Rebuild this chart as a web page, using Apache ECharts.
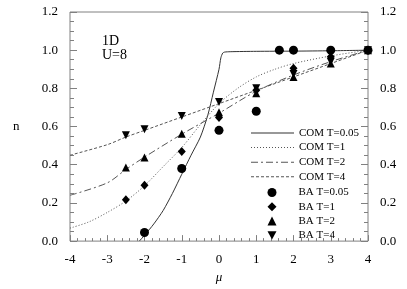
<!DOCTYPE html>
<html><head><meta charset="utf-8">
<script src="https://cdn.jsdelivr.net/npm/echarts@6/dist/echarts.min.js"></script>
<style>html,body{margin:0;padding:0;background:#fff}#c{width:407px;height:289px}</style>
</head><body><div id="c"></div>
<script>
// x-axis ticks and y-axis ticks
const xTicks = [-4, -3, -2, -1, 0, 1, 2, 3, 4];
const yTicks = [0.0, 0.2, 0.4, 0.6, 0.8, 1.0, 1.2];

// COM curves (mu, n)
const comT005_mu = [-2.14, -2, -1.75, -1.5, -1.25, -1, -0.75, -0.5, -0.3, -0.15, 0, 0.05, 0.1, 0.15, 0.3, 1, 2, 3, 4];
const comT005_n  = [0, 0.03, 0.09, 0.16, 0.25, 0.35, 0.45, 0.545, 0.66, 0.78, 0.9, 0.96, 0.985, 0.99, 0.992, 0.994, 0.995, 0.997, 1.0];
const comT1_mu = [-4, -3.5, -3, -2.5, -2, -1.5, -1, -0.5, 0, 0.5, 1, 1.5, 2, 3, 4];
const comT1_n  = [0.068, 0.1, 0.15, 0.21, 0.29, 0.39, 0.49, 0.61, 0.72, 0.8, 0.86, 0.9, 0.93, 0.97, 1.0];
const comT2_mu = [-4, -3, -2.5, -2, -1, 0, 1, 2, 3, 4];
const comT2_n  = [0.24, 0.305, 0.375, 0.44, 0.56, 0.67, 0.785, 0.87, 0.94, 1.0];
const comT4_mu = [-4, -3, -2.5, -2, -1, 0, 1, 2, 3, 4];
const comT4_n  = [0.45, 0.505, 0.545, 0.58, 0.65, 0.72, 0.79, 0.86, 0.93, 1.0];

// BA points
const baT005_mu = [-2, -1, 0, 1, 1.62, 2, 3, 4];
const baT005_n  = [0.045, 0.38, 0.58, 0.68, 1.0, 1.0, 1.0, 1.0];
const baT1_mu = [-2.5, -2, -1, 0, 1, 2, 3, 4];
const baT1_n  = [0.217, 0.293, 0.469, 0.648, 0.79, 0.905, 0.965, 1.0];
const baT2_mu = [-2.5, -2, -1, 0, 1, 2, 3, 4];
const baT2_n  = [0.386, 0.438, 0.562, 0.675, 0.775, 0.86, 0.93, 1.0];
const baT4_mu = [-2.5, -2, -1, 0, 1, 2, 3, 4];
const baT4_n  = [0.555, 0.586, 0.655, 0.728, 0.80, 0.875, 0.94, 1.0];

const zip = (a, b) => a.map((v, i) => [v, b[i]]);
const FONT = 'Liberation Serif';
const axisGray = '#808080';

const chart = echarts.init(document.getElementById('c'), null, {renderer: 'canvas'});

function yAxisDef(pos) {
  return {
    type: 'value', position: pos, min: yTicks[0], max: yTicks[yTicks.length - 1], interval: 0.2,
    axisLine: {show: false, onZero: false},
    axisTick: {show: true, inside: true, length: 7, lineStyle: {color: axisGray}},
    minorTick: {show: true, splitNumber: 4, length: 4, lineStyle: {color: axisGray}},
    splitLine: {show: false}, minorSplitLine: {show: false},
    axisPointer: {show: false},
    axisLabel: {margin: 12, fontFamily: FONT, fontSize: 13, color: '#000', formatter: v => v.toFixed(1)}
  };
}

const lineBase = {type: 'line', smooth: 0.3, symbol: 'none', showSymbol: false, z: 2};
const scatBase = {type: 'scatter', symbolSize: 8, itemStyle: {color: '#000', opacity: 1}, z: 3};

// legend icons for the line styles (width 43, height 1)
const iconSolid = 'path://M0,0h43v1h-43z';
const iconDotted = 'path://' + Array.from({length: 15}, (_, i) => `M${i * 3},0h1v1h-1z`).join('') + 'M42,0h1v1h-1z';
const iconDashDot = 'path://M0,0h7v1h-7zM10,0h2v1h-2zM15,0h7v1h-7zM25,0h2v1h-2zM30,0h7v1h-7zM40,0h3v1h-3z';
const iconDashed = 'path://' + Array.from({length: 9}, (_, i) => `M${i * 5},0h3v1h-3z`).join('');
const downTriangle = 'path://M0,0L2,0L1,1.8z';

chart.setOption({
  animation: false,
  backgroundColor: '#fff',
  tooltip: {show: false},
  grid: {left: 70, right: 39, top: 12, bottom: 45, show: true, borderColor: axisGray, borderWidth: 1},
  xAxis: {
    type: 'value', min: xTicks[0], max: xTicks[xTicks.length - 1], interval: 1,
    axisLine: {show: false, onZero: false},
    axisTick: {show: true, inside: true, length: 6, lineStyle: {color: axisGray}},
    minorTick: {show: true, splitNumber: 5, length: 3, lineStyle: {color: axisGray}},
    splitLine: {show: false}, minorSplitLine: {show: false},
    axisPointer: {show: false},
    axisLabel: {margin: 12, fontFamily: FONT, fontSize: 13, color: '#000'},
    name: 'μ', nameLocation: 'middle', nameGap: 28,
    nameTextStyle: {fontFamily: FONT, fontSize: 13, fontStyle: 'italic', color: '#000'}
  },
  yAxis: [yAxisDef('left'), yAxisDef('right')],
  legend: [
    {
      data: [
        {name: 'COM T=0.05', icon: iconSolid},
        {name: 'COM T=1', icon: iconDotted},
        {name: 'COM T=2', icon: iconDashDot},
        {name: 'COM T=4', icon: iconDashed}
      ],
      orient: 'vertical', left: 246, top: 121.5, itemWidth: 43, itemHeight: 9, itemGap: 1.6,
      textStyle: {fontFamily: FONT, fontSize: 11, color: '#000', lineHeight: 13}
    },
    {
      data: [
        {name: 'BA T=0.05'},
        {name: 'BA T=1'},
        {name: 'BA T=2'},
        {name: 'BA T=4', icon: downTriangle}
      ],
      orient: 'vertical', left: 262.5, top: 181, itemWidth: 9, itemHeight: 9, itemGap: 1.3,
      itemStyle: {opacity: 1},
      textStyle: {fontFamily: FONT, fontSize: 11, color: '#000', lineHeight: 13, padding: [0, 0, 0, 17]}
    }
  ],
  graphic: [
    {type: 'text', left: 13, top: 120, style: {text: 'n', font: '13px "Liberation Serif"', fill: '#000'}},
    {type: 'text', left: 102, top: 34, style: {text: '1D', font: '14px "Liberation Serif"', fill: '#000'}},
    {type: 'text', left: 102, top: 48, style: {text: 'U=8', font: '14px "Liberation Serif"', fill: '#000'}}
  ],
  series: [
    Object.assign({}, lineBase, {name: 'COM T=0.05', data: zip(comT005_mu, comT005_n), smooth: 0.25,
      lineStyle: {color: '#333', width: 1, type: 'solid'}, itemStyle: {color: '#333'}}),
    Object.assign({}, lineBase, {name: 'COM T=1', data: zip(comT1_mu, comT1_n),
      lineStyle: {color: '#555', width: 1, type: [1, 2]}, itemStyle: {color: '#555'}}),
    Object.assign({}, lineBase, {name: 'COM T=2', data: zip(comT2_mu, comT2_n),
      lineStyle: {color: '#555', width: 1, type: [7, 3, 2, 3]}, itemStyle: {color: '#555'}}),
    Object.assign({}, lineBase, {name: 'COM T=4', data: zip(comT4_mu, comT4_n),
      lineStyle: {color: '#555', width: 1, type: [3, 2]}, itemStyle: {color: '#555'}}),
    Object.assign({}, scatBase, {name: 'BA T=0.05', symbol: 'circle', symbolSize: 9, data: zip(baT005_mu, baT005_n)}),
    Object.assign({}, scatBase, {name: 'BA T=1', symbol: 'diamond', symbolSize: [8, 9], data: zip(baT1_mu, baT1_n)}),
    Object.assign({}, scatBase, {name: 'BA T=2', symbol: 'triangle', data: zip(baT2_mu, baT2_n)}),
    Object.assign({}, scatBase, {name: 'BA T=4', symbol: downTriangle, data: zip(baT4_mu, baT4_n)})
  ]
});
</script></body></html>
